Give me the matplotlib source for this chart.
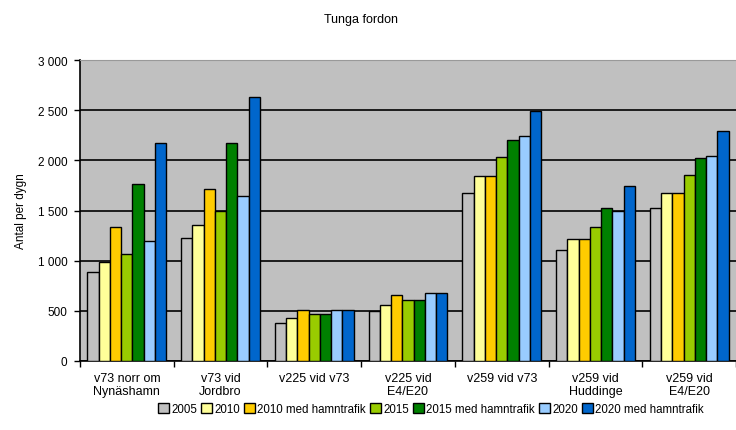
import matplotlib
matplotlib.use("Agg")
import matplotlib.pyplot as plt
import numpy as np
from matplotlib.ticker import FuncFormatter, FixedLocator

plt.rcParams['font.family'] = ['Liberation Sans', 'DejaVu Sans']

categories = ["v73 norr om\nNynäshamn", "v73 vid\nJordbro", "v225 vid v73",
              "v225 vid\nE4/E20", "v259 vid v73", "v259 vid\nHuddinge", "v259 vid\nE4/E20"]
series_names = ["2005", "2010", "2010 med hamntrafik", "2015", "2015 med hamntrafik",
                "2020", "2020 med hamntrafik"]
v2005 = [890, 1225, 377, 500, 1675, 1102, 1523]
v2010 = [990, 1355, 425, 557, 1840, 1220, 1673]
v2010h = [1340, 1715, 510, 653, 1840, 1220, 1673]
v2015 = [1070, 1493, 467, 610, 2033, 1340, 1855]
v2015h = [1765, 2170, 467, 610, 2200, 1523, 2022]
v2020 = [1195, 1643, 513, 677, 2243, 1493, 2048]
v2020h = [2170, 2630, 513, 677, 2493, 1740, 2290]
values = [v2005, v2010, v2010h, v2015, v2015h, v2020, v2020h]
colors = ["#c0c0c0", "#ffff99", "#ffcc00", "#99cc00", "#008000", "#99ccff", "#0066cc"]

fig = plt.figure(figsize=(7.36, 4.31), dpi=100)
ax = fig.add_axes([80/736, 1-362/431, 656/736, 301/431])
ax.set_facecolor("#c0c0c0")

n = len(series_names)
x = np.arange(len(categories))
bw = 0.84 / n
for i, (name, vals, c) in enumerate(zip(series_names, values, colors)):
    ax.bar(x - 0.42 + bw*(i+0.5), vals, width=bw, color=c, edgecolor="black",
           linewidth=1.0, label=name, zorder=3)

ax.set_xlim(-0.5, len(categories) - 0.5)
ax.set_ylim(0, 3000)
ax.set_yticks(np.arange(0, 3001, 500))
ax.yaxis.set_major_formatter(FuncFormatter(lambda v, p: f"{int(v):,}".replace(",", " ")))
ax.yaxis.grid(True, color="black", linewidth=1.2, zorder=0)
ax.set_axisbelow(True)

ax.set_xticks(x)
ax.set_xticklabels(categories, fontsize=9, linespacing=1.05)
ax.tick_params(axis="x", which="major", length=0, pad=8)
ax.xaxis.set_minor_locator(FixedLocator(np.arange(-0.5, len(categories), 1.0)))
ax.tick_params(axis="x", which="minor", length=4, width=1, direction="out")
ax.tick_params(axis="y", labelsize=8.5, length=4, width=1, direction="out", pad=5)

ax.spines["right"].set_visible(False)
ax.spines["top"].set_color("#999999")
ax.spines["left"].set_linewidth(1.2)
ax.spines["bottom"].set_linewidth(1.2)

ax.set_ylabel("Antal per dygn", fontsize=8.5, labelpad=8)
fig.text(361/736, 1-20/431, "Tunga fordon", ha="center", va="center", fontsize=9)

fig.legend(loc="center", bbox_to_anchor=(431/736, 1-410/431), ncol=7, frameon=False,
           fontsize=8.3, handlelength=0.9, handleheight=0.9, handletextpad=0.2,
           columnspacing=0.4, borderaxespad=0)

fig.savefig("out.png", dpi=100, facecolor="white")
